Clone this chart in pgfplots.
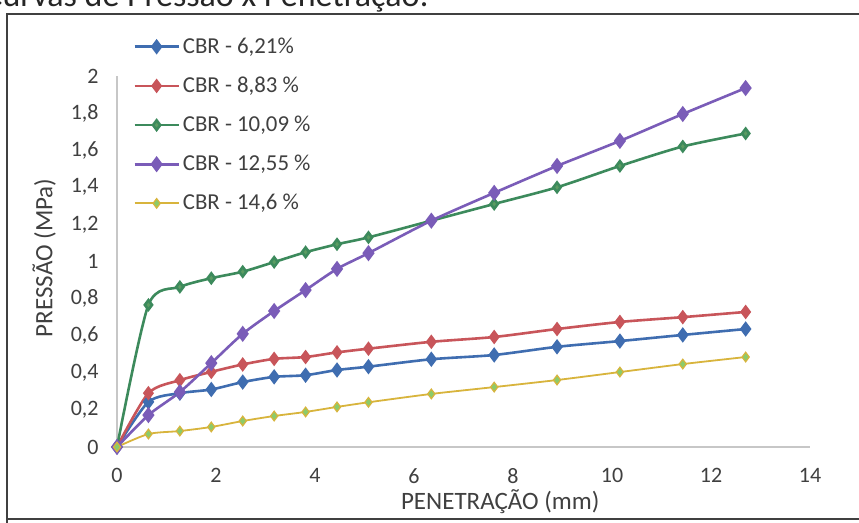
\documentclass[border=0pt]{standalone}
\usepackage{fontspec}
\setmainfont{Carlito}
\usepackage{pgfplots}
\pgfplotsset{compat=1.18}
\definecolor{cblue}{HTML}{3F6DB0}
\definecolor{cred}{HTML}{C8555A}
\definecolor{cgreen}{HTML}{3C8A5C}
\definecolor{cgreenm}{HTML}{5C9C62}
\definecolor{cpurple}{HTML}{7A5CB8}
\definecolor{cyellow}{HTML}{D8B43C}
\definecolor{cyellowm}{HTML}{8CCB6A}
\definecolor{txt}{HTML}{404040}
\pgfplotstableread{
x      a      b      c      d      e
0      0      0      0      0      0
0.635  0.243  0.290  0.766  0.172  0.070
1.27   0.290  0.360  0.863  0.296  0.086
1.905  0.310  0.405  0.910  0.452  0.108
2.54   0.350  0.445  0.945  0.610  0.140
3.175  0.378  0.475  0.997  0.733  0.167
3.81   0.387  0.485  1.050  0.846  0.189
4.445  0.415  0.510  1.093  0.960  0.216
5.08   0.433  0.530  1.130  1.045  0.241
6.35   0.473  0.567  1.220  1.220  0.286
7.62   0.496  0.593  1.310  1.370  0.323
8.89   0.540  0.636  1.400  1.515  0.361
10.16  0.571  0.674  1.515  1.650  0.404
11.43  0.604  0.700  1.620  1.795  0.447
12.70  0.636  0.728  1.690  1.935  0.485
}\data
\begin{document}
\begin{tikzpicture}
\path[use as bounding box] (0,0) rectangle (429.5pt,261.5pt);
\clip (0,0) rectangle (429.5pt,261.5pt);
\fill[white] (0,0) rectangle (429.5pt,261.5pt);
\node[anchor=base west, inner sep=0pt, font=\fontsize{17pt}{19pt}\selectfont, text=black!85] at (-8pt,258pt) {Curvas de Pressão x Penetração:};
\draw[line width=1pt, black!75] (3.5pt,-5pt) -- (3.5pt,254.5pt) -- (440pt,254.5pt);
\draw[line width=1pt, black!75] (3.5pt,2pt) -- (440pt,2pt);
\begin{axis}[
  at={(58.5pt,38pt)}, anchor=south west,
  scale only axis, width=346.5pt, height=185.5pt,
  xmin=0, xmax=14, ymin=0, ymax=2,
  axis lines=left,
  axis line style={-, draw=black!22, line width=0.7pt},
  major tick length=0pt,
  xtick={0,2,4,6,8,10,12,14},
  ytick={0,0.2,0.4,0.6,0.8,1,1.2,1.4,1.6,1.8,2},
  yticklabels={0,{0,2},{0,4},{0,6},{0,8},1,{1,2},{1,4},{1,6},{1,8},2},
  tick label style={font=\fontsize{11pt}{13pt}\selectfont, text=txt, inner sep=0pt},
  /pgf/number format/assume math mode=true,
  yticklabel shift=9pt,
  xticklabel shift=10.5pt,
  xlabel={PENETRAÇÃO (mm)},
  ylabel={PRESSÃO (MPa)},
  every axis x label/.style={at={(axis description cs:0.553,-0.147)}, anchor=center, font=\fontsize{12.5pt}{14pt}\selectfont, text=txt},
  every axis y label/.style={at={(axis description cs:-0.105,0.51)}, anchor=center, rotate=90, font=\fontsize{12.5pt}{14pt}\selectfont, text=txt},
  legend style={draw=none, fill=none, at={(axis description cs:0.023,1.113)}, anchor=north west,
    font=\fontsize{11.4pt}{13pt}\selectfont, text=txt, row sep=7.3pt, inner sep=0pt,
    nodes={inner sep=1.5pt}},
  legend cell align=left,
  legend image code/.code={\draw[mark repeat=2,mark phase=2,#1] plot coordinates {(0pt,0pt) (11pt,0pt) (22pt,0pt)};},
  every axis plot/.append style={smooth, tension=0.45},
  clip=false,
]
\addplot[color=cblue, line width=1.3pt, mark=diamond*, mark size=2.8pt, mark options={fill=cblue, draw=cblue}] table[x=x,y=a] {\data};
\addlegendentry{CBR - 6,21\%}
\addplot[color=cred, line width=1.3pt, mark=diamond*, mark size=2.6pt, mark options={fill=cred, draw=cred}] table[x=x,y=b] {\data};
\addlegendentry{CBR - 8,83 \%}
\addplot[color=cgreen, line width=1.3pt, mark=diamond*, mark size=2.4pt, mark options={fill=cgreenm, draw=cgreen}] table[x=x,y=c] {\data};
\addlegendentry{CBR - 10,09 \%}
\addplot[color=cpurple, line width=1.3pt, mark=diamond*, mark size=3pt, mark options={fill=cpurple, draw=cpurple}] table[x=x,y=d] {\data};
\addlegendentry{CBR - 12,55 \%}
\addplot[color=cyellow, line width=0.9pt, mark=diamond*, mark size=2.4pt, mark options={fill=cyellowm, draw=cyellow, line width=0.6pt}] table[x=x,y=e] {\data};
\addlegendentry{CBR - 14,6 \%}
\end{axis}
\end{tikzpicture}
\end{document}
